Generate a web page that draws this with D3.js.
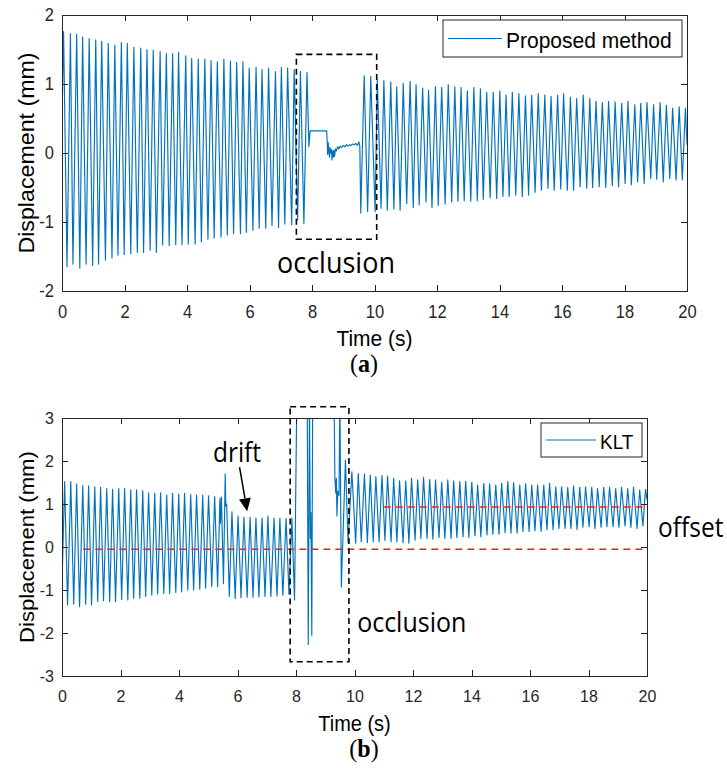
<!DOCTYPE html>
<html lang="en">
<head>
    <meta charset="UTF-8">
    <title>Displacement: proposed method vs KLT</title>
    <script src="https://cdn.jsdelivr.net/npm/d3@7"></script>
    <style>
        body { margin: 0; background: #fff; }
        svg { display: block; }
    </style>
</head>
<body>
    <svg id="fig" width="727" height="772"></svg>

    <script>
        // tick labels
        const xTicks = [0, 2, 4, 6, 8, 10, 12, 14, 16, 18, 20];
        const yTicksA = [-2, -1, 0, 1, 2];
        const yTicksB = [-3, -2, -1, 0, 1, 2, 3];

        // (a) proposed method: turning points [time s, displacement mm]
        const seriesA = [
            [0,0.5],[0.05,1.76],[0.16,-1.65],[0.27,1.73],[0.35,-1.61],[0.47,1.72],[0.57,-1.67],[0.66,1.68],[0.77,-1.61],[0.87,1.66],
            [0.98,-1.63],[1.08,1.64],[1.17,-1.61],[1.27,1.62],[1.39,-1.55],[1.48,1.59],[1.60,-1.52],[1.69,1.56],[1.79,-1.48],[1.90,1.60],
            [1.99,-1.47],[2.09,1.59],[2.20,-1.46],[2.30,1.53],[2.41,-1.44],[2.52,1.52],[2.61,-1.44],[2.72,1.50],[2.82,-1.41],[2.92,1.49],
            [3.02,-1.44],[3.14,1.47],[3.22,-1.33],[3.34,1.44],[3.43,-1.34],[3.54,1.44],[3.64,-1.33],[3.73,1.46],[3.84,-1.33],[3.96,1.41],
            [4.04,-1.32],[4.15,1.37],[4.26,-1.32],[4.36,1.36],[4.46,-1.29],[4.57,1.36],[4.67,-1.25],[4.77,1.34],[4.87,-1.23],[4.97,1.32],
            [5.09,-1.22],[5.18,1.36],[5.29,-1.19],[5.39,1.33],[5.49,-1.17],[5.59,1.31],[5.71,-1.17],[5.79,1.32],[5.90,-1.15],[5.99,1.23],
            [6.11,-1.12],[6.21,1.24],[6.31,-1.09],[6.40,1.21],[6.52,-1.09],[6.61,1.23],[6.72,-1.05],[6.83,1.18],[6.93,-1.08],[7.02,1.24],
            [7.13,-1.03],[7.22,1.23],[7.35,-1.04],[7.43,1.21],[7.54,-0.97],[7.63,1.18],[7.74,-1.02],[7.84,1.17],[7.90,0.09],[7.94,0.32],
            [8.47,0.32],[8.49,0.12],[8.50,-0.02],[8.52,0.15],[8.54,0.02],[8.56,-0.06],[8.58,0.08],[8.60,0.0],[8.62,0.05],[8.64,-0.10],
            [8.66,0.03],[8.68,-0.06],[8.70,0.04],[8.72,-0.05],[8.75,0.06],[8.78,0.03],[8.82,0.09],[8.86,0.06],[8.90,0.10],[8.95,0.08],
            [9.0,0.11],[9.05,0.09],[9.1,0.12],[9.15,0.10],[9.2,0.12],[9.25,0.11],[9.3,0.13],[9.35,0.12],[9.4,0.14],[9.45,0.11],
            [9.5,0.16],[9.53,0.10],[9.56,-0.87],[9.67,1.12],[9.78,-0.85],[9.88,1.11],[10.02,-0.85],[10.09,1.06],[10.21,-0.80],[10.30,1.05],
            [10.41,-0.83],[10.52,1.03],[10.62,-0.81],[10.71,0.96],[10.82,-0.83],[10.92,1.01],[11.03,-0.73],[11.14,1.04],[11.24,-0.79],[11.33,0.99],
            [11.43,-0.75],[11.54,0.94],[11.65,-0.71],[11.73,0.91],[11.84,-0.79],[11.95,0.96],[12.04,-0.76],[12.15,0.95],[12.26,-0.74],[12.36,0.99],
            [12.47,-0.71],[12.57,0.96],[12.67,-0.70],[12.77,0.95],[12.87,-0.69],[12.97,0.90],[13.08,-0.70],[13.18,0.95],[13.29,-0.69],[13.39,0.93],
            [13.48,-0.67],[13.59,0.88],[13.70,-0.65],[13.80,0.88],[13.91,-0.66],[14.01,0.90],[14.11,-0.63],[14.21,0.84],[14.31,-0.63],[14.41,0.88],
            [14.52,-0.61],[14.62,0.86],[14.73,-0.63],[14.83,0.83],[14.93,-0.61],[15.03,0.84],[15.14,-0.57],[15.24,0.86],[15.34,-0.54],[15.45,0.84],
            [15.55,-0.51],[15.65,0.82],[15.75,-0.54],[15.86,0.84],[15.96,-0.52],[16.05,0.86],[16.17,-0.54],[16.27,0.81],[16.37,-0.54],[16.47,0.79],
            [16.58,-0.49],[16.68,0.84],[16.79,-0.51],[16.89,0.79],[16.98,-0.50],[17.09,0.75],[17.19,-0.49],[17.29,0.73],[17.40,-0.50],[17.49,0.75],
            [17.61,-0.47],[17.70,0.74],[17.81,-0.49],[17.91,0.72],[18.02,-0.44],[18.11,0.75],[18.22,-0.46],[18.33,0.70],[18.42,-0.42],[18.52,0.72],
            [18.63,-0.44],[18.72,0.73],[18.84,-0.37],[18.93,0.70],[19.03,-0.38],[19.14,0.73],[19.24,-0.42],[19.34,0.69],[19.45,-0.37],[19.54,0.65],
            [19.65,-0.39],[19.75,0.67],[19.85,-0.39],[19.95,0.65],[20.0,0.12]
        ];

        // (b) KLT: turning points [time s, displacement mm]; values above 3 leave the axes
        const seriesB = [
            [0,-0.88],[0.09,1.52],[0.19,-1.35],[0.30,1.52],[0.40,-1.33],[0.50,1.47],[0.60,-1.39],[0.71,1.43],[0.81,-1.33],[0.91,1.42],
            [1.01,-1.35],[1.12,1.40],[1.22,-1.27],[1.32,1.39],[1.42,-1.25],[1.53,1.36],[1.63,-1.27],[1.73,1.34],[1.83,-1.27],[1.94,1.36],
            [2.04,-1.22],[2.14,1.36],[2.25,-1.23],[2.35,1.33],[2.45,-1.19],[2.55,1.33],[2.66,-1.19],[2.76,1.31],[2.86,-1.15],[2.96,1.26],
            [3.07,-1.12],[3.17,1.25],[3.27,-1.09],[3.37,1.26],[3.48,-1.08],[3.58,1.21],[3.68,-1.08],[3.78,1.25],[3.89,-1.06],[3.99,1.23],
            [4.09,-1.04],[4.19,1.25],[4.30,-1.00],[4.40,1.22],[4.50,-1.00],[4.60,1.21],[4.71,-0.98],[4.81,1.21],[4.91,-0.96],[5.01,1.19],
            [5.12,-0.92],[5.22,1.17],[5.32,-0.92],[5.40,1.13],[5.42,0.55],[5.45,1.16],[5.52,-0.85],[5.58,1.70],[5.60,0.95],[5.63,1.00],
            [5.72,-1.15],[5.81,0.82],[5.92,-1.20],[6.02,0.72],[6.12,-1.18],[6.22,0.69],[6.33,-1.17],[6.43,0.69],[6.53,-1.17],[6.63,0.67],
            [6.73,-1.16],[6.84,0.67],[6.94,-1.15],[7.04,0.72],[7.14,-1.15],[7.25,0.67],[7.35,-1.14],[7.45,0.67],[7.55,-1.12],[7.66,0.66],
            [7.76,-1.10],[7.86,0.67],[7.95,-1.23],[8.03,3.6],[8.10,3.8],[8.38,3.8],[8.42,-2.27],[8.46,3.5],[8.49,0.2],[8.51,0.8],
            [8.54,-2.05],[8.57,3.5],[9.30,3.5],[9.33,1.6],[9.36,1.25],[9.38,1.6],[9.40,0.72],[9.43,1.3],[9.47,1.2],[9.50,3.5],
            [9.55,-0.93],[9.69,2.02],[9.78,0.10],[9.91,1.75],[10.04,0.09],[10.13,1.71],[10.23,0.12],[10.34,1.70],[10.44,0.10],[10.54,1.67],
            [10.64,0.12],[10.73,1.64],[10.84,0.12],[10.94,1.66],[11.04,0.15],[11.13,1.65],[11.25,0.12],[11.34,1.60],[11.45,0.12],[11.54,1.54],
            [11.66,0.10],[11.75,1.54],[11.86,0.09],[11.95,1.60],[12.07,0.16],[12.16,1.56],[12.27,0.20],[12.36,1.62],[12.48,0.20],[12.57,1.57],
            [12.68,0.18],[12.77,1.56],[12.89,0.22],[12.98,1.51],[13.09,0.20],[13.19,1.56],[13.30,0.20],[13.39,1.54],[13.50,0.22],[13.60,1.52],
            [13.71,0.24],[13.80,1.53],[13.91,0.22],[14.01,1.51],[14.12,0.26],[14.21,1.44],[14.32,0.24],[14.42,1.48],[14.53,0.28],[14.62,1.47],
            [14.73,0.30],[14.83,1.44],[14.94,0.30],[15.03,1.48],[15.15,0.33],[15.24,1.52],[15.35,0.32],[15.44,1.50],[15.56,0.32],[15.65,1.44],
            [15.76,0.36],[15.85,1.47],[15.97,0.36],[16.06,1.44],[16.17,0.38],[16.26,1.44],[16.38,0.36],[16.47,1.44],[16.58,0.40],[16.67,1.48],
            [16.79,0.40],[16.88,1.40],[16.99,0.43],[17.08,1.40],[17.20,0.43],[17.29,1.39],[17.40,0.43],[17.49,1.42],[17.61,0.41],[17.70,1.39],
            [17.81,0.46],[17.90,1.40],[18.02,0.47],[18.11,1.39],[18.22,0.43],[18.31,1.36],[18.43,0.46],[18.52,1.39],[18.63,0.47],[18.72,1.39],
            [18.84,0.47],[18.93,1.36],[19.04,0.46],[19.13,1.39],[19.25,0.49],[19.34,1.36],[19.45,0.46],[19.54,1.39],[19.66,0.43],[19.75,1.33],
            [19.86,0.49],[19.95,1.34],[20.0,1.1]
        ];

        // annotations, in data units
        const occlusionA = { t0: 7.5, t1: 10.07, lo: -1.25, hi: 1.43 };
        const occlusionB = { t0: 7.8, t1: 9.81, lo: -2.67, hi: 3.26 };
        const offsetLines = [
            { t0: 0.73, t1: 19.85, v: -0.05 },
            { t0: 11.0, t1: 19.85, v: 0.93 }
        ];
        const driftArrow = { from: [6.07, 1.86], to: [6.33, 0.83] };

        const SY = 1.08; // the source figure is slightly stretched vertically
        const FONT = "'Liberation Sans', Arial, Helvetica, sans-serif";
        const NOTE = "'Open Sans', 'Noto Sans', sans-serif";
        const SERIF = "'Liberation Serif', 'DejaVu Serif', serif";
        const BLUE = "#0072BD";
        const AXC = "#262626";

        const svg = d3.select("#fig");

        function txt(g, x, y, str, size, o = {}) {
            return g.append("text")
                .attr("transform", `translate(${x},${y}) scale(1,${SY})${o.rotate ? " rotate(-90)" : ""}`)
                .attr("font-family", o.family || FONT)
                .attr("font-size", size)
                .attr("text-anchor", o.anchor || "start")
                .attr("fill", o.fill || "#000")
                .text(str);
        }

        function drawPanel(p) {
            const x = d3.scaleLinear().domain([0, 20]).range([p.left, p.left + p.width]);
            const y = d3.scaleLinear().domain(p.yDomain).range([p.top + p.height, p.top]);
            const g = svg.append("g");

            g.append("clipPath").attr("id", "clip-" + p.id)
                .append("rect")
                .attr("x", p.left).attr("y", p.top)
                .attr("width", p.width).attr("height", p.height);

            g.append("path")
                .datum(p.series)
                .attr("clip-path", `url(#clip-${p.id})`)
                .attr("fill", "none")
                .attr("stroke", BLUE)
                .attr("stroke-width", 1.15)
                .attr("stroke-linejoin", "round")
                .attr("d", d3.line().x(d => x(d[0])).y(d => y(d[1])));

            const fmt = d => String(d);
            const axes = [
                { a: d3.axisBottom(x).tickValues(xTicks).tickFormat(fmt).tickPadding(p.xPad), t: `translate(0,${p.top + p.height})` },
                { a: d3.axisTop(x).tickValues(xTicks).tickFormat(""), t: `translate(0,${p.top})` },
                { a: d3.axisLeft(y).tickValues(p.yTicks).tickFormat(fmt).tickPadding(8), t: `translate(${p.left},0)` },
                { a: d3.axisRight(y).tickValues(p.yTicks).tickFormat(""), t: `translate(${p.left + p.width},0)` }
            ];
            axes.forEach(ax => {
                const ag = g.append("g")
                    .attr("transform", ax.t)
                    .call(ax.a.tickSize(-6).tickSizeOuter(0));
                ag.select(".domain").remove();
                ag.selectAll("line").attr("stroke", AXC).attr("shape-rendering", "crispEdges");
                ag.selectAll("text")
                    .attr("font-family", FONT)
                    .attr("font-size", p.tickSize)
                    .attr("fill", AXC)
                    .attr("transform", `scale(1,${SY})`);
            });

            g.append("rect")
                .attr("x", p.left).attr("y", p.top)
                .attr("width", p.width).attr("height", p.height)
                .attr("fill", "none")
                .attr("stroke", AXC)
                .attr("stroke-width", 1)
                .attr("shape-rendering", "crispEdges");

            txt(g, p.left + p.width / 2, p.top + p.height + p.xLabelGap, "Time (s)", p.labelSize, { anchor: "middle" });
            txt(g, 34, p.top + p.height / 2, "Displacement (mm)", p.labelSize + 0.5, { anchor: "middle", rotate: true });

            // panel tag
            const tag = g.append("text")
                .attr("transform", `translate(364,${p.tagY}) scale(1,${SY})`)
                .attr("font-family", SERIF)
                .attr("font-size", 24)
                .attr("text-anchor", "middle");
            tag.append("tspan").text("(");
            tag.append("tspan").attr("font-weight", "bold").text(p.tag);
            tag.append("tspan").text(")");

            return { g, x, y };
        }

        function drawLegend(g, p, label) {
            const right = p.left + p.width - 5;
            const bx = right - p.legendW;
            const by = p.top + 5;
            g.append("rect")
                .attr("x", bx).attr("y", by)
                .attr("width", p.legendW).attr("height", p.legendH)
                .attr("fill", "#fff")
                .attr("stroke", AXC)
                .attr("stroke-width", 1);
            g.append("line")
                .attr("x1", bx + 5).attr("x2", bx + 5 + p.legendLine)
                .attr("y1", by + p.legendH / 2).attr("y2", by + p.legendH / 2)
                .attr("stroke", BLUE).attr("stroke-width", 1);
            txt(g, bx + 9 + p.legendLine, by + p.legendBase, label, p.legendFont);
        }

        function dashedBox(g, x, y, b) {
            g.append("rect")
                .attr("x", x(b.t0)).attr("y", y(b.hi))
                .attr("width", x(b.t1) - x(b.t0))
                .attr("height", y(b.lo) - y(b.hi))
                .attr("fill", "none")
                .attr("stroke", "#000")
                .attr("stroke-width", 1.6)
                .attr("stroke-dasharray", "6,4");
        }

        // ---- (a) ----
        const pa = {
            id: "a", left: 62, top: 15, width: 625, height: 276,
            yDomain: [-2, 2], yTicks: yTicksA, series: seriesA,
            xPad: 13, tickSize: 16.5, labelSize: 21, xLabelGap: 55, tag: "a", tagY: 372,
            legendW: 239, legendH: 37, legendLine: 54, legendBase: 28, legendFont: 21
        };
        const A = drawPanel(pa);
        dashedBox(A.g, A.x, A.y, occlusionA);
        txt(A.g, A.x(6.88), A.y(-1.74), "occlusion", 27, { family: NOTE });
        drawLegend(A.g, pa, "Proposed method");

        // ---- (b) ----
        const pb = {
            id: "b", left: 62, top: 418, width: 585, height: 258,
            yDomain: [-3, 3], yTicks: yTicksB, series: seriesB,
            xPad: 13, tickSize: 16, labelSize: 20, xLabelGap: 55, tag: "b", tagY: 757,
            legendW: 101, legendH: 34, legendLine: 50, legendBase: 26, legendFont: 19
        };
        const B = drawPanel(pb);

        offsetLines.forEach(l => {
            B.g.append("line")
                .attr("x1", B.x(l.t0)).attr("x2", B.x(l.t1))
                .attr("y1", B.y(l.v)).attr("y2", B.y(l.v))
                .attr("stroke", "#ff1a1a")
                .attr("stroke-width", 1.5)
                .attr("stroke-dasharray", "7,5");
        });

        dashedBox(B.g, B.x, B.y, occlusionB);

        // drift arrow
        const ax0 = B.x(driftArrow.from[0]), ay0 = B.y(driftArrow.from[1]);
        const ax1 = B.x(driftArrow.to[0]), ay1 = B.y(driftArrow.to[1]);
        const len = Math.hypot(ax1 - ax0, ay1 - ay0);
        const ux = (ax1 - ax0) / len, uy = (ay1 - ay0) / len;
        const headL = 13, headW = 6;
        const hx = ax1 - ux * headL, hy = ay1 - uy * headL;
        B.g.append("line")
            .attr("x1", ax0).attr("y1", ay0).attr("x2", hx).attr("y2", hy)
            .attr("stroke", "#000").attr("stroke-width", 1.5);
        B.g.append("path")
            .attr("d", `M${ax1},${ay1}L${hx - uy * headW},${hy + ux * headW}L${hx + uy * headW},${hy - ux * headW}Z`)
            .attr("fill", "#000");

        txt(B.g, B.x(5.16), B.y(1.98), "drift", 24.5, { family: NOTE });
        txt(B.g, B.x(20.38), B.y(0.24), "offset", 24.5, { family: NOTE });
        txt(B.g, B.x(10.09), B.y(-1.98), "occlusion", 25, { family: NOTE });
        drawLegend(B.g, pb, "KLT");
    </script>
</body>
</html>
